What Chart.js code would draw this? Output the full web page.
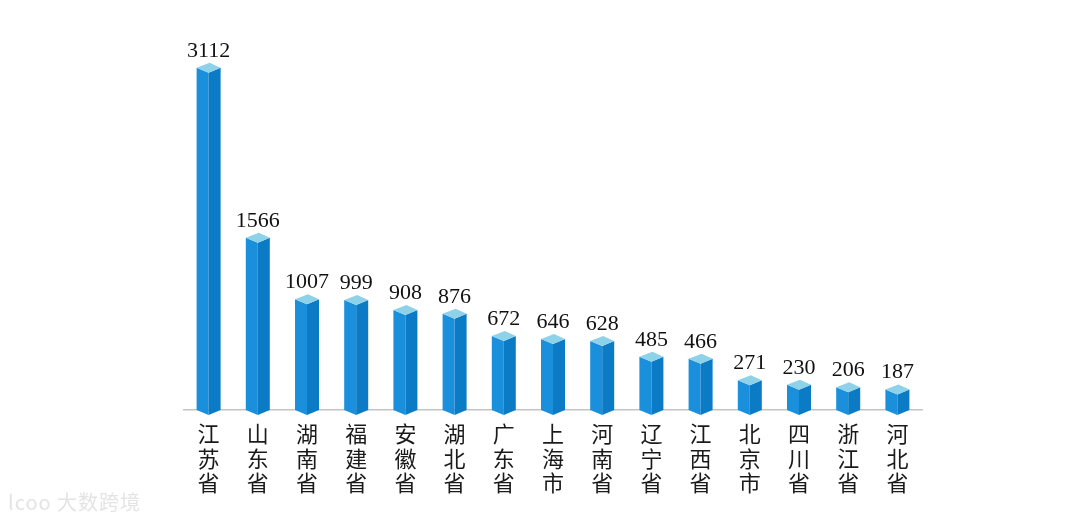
<!DOCTYPE html>
<html>
<head>
<meta charset="utf-8">
<script src="https://cdn.jsdelivr.net/npm/chart.js@4.4.0/dist/chart.umd.min.js"></script>
<style>
    html, body { margin: 0; padding: 0; background: #fff; }
    #wrap { position: relative; width: 1080px; height: 522px; }
    #mark { position: absolute; left: 8px; bottom: 6px; font: 20px "Noto Sans CJK SC", sans-serif; color: #e4e4e4; letter-spacing: 1px; }
</style>
</head>
<body>
<div id="wrap">
    <canvas id="barProvinsi" width="1080" height="522"></canvas>
    <div id="mark">lcoo 大数跨境</div>
</div>
<script>
var provinces = ['江苏省', '山东省', '湖南省', '福建省', '安徽省', '湖北省', '广东省', '上海市', '河南省', '辽宁省', '江西省', '北京市', '四川省', '浙江省', '河北省'];
var counts = [3112, 1566, 1007, 999, 908, 876, 672, 646, 628, 485, 466, 271, 230, 206, 187];

// vertical labels: one character per line
var labels = provinces.map(function (p) { return p.split(''); });

var cube = {
    id: 'cube',
    afterDatasetsDraw: function (chart) {
        var ctx = chart.ctx;
        var meta = chart.getDatasetMeta(0);
        ctx.save();
        meta.data.forEach(function (bar, i) {
            var x = bar.x, y = bar.y, base = bar.base, h = 12, d = 5;
            // left face
            ctx.fillStyle = '#1a8fdc';
            ctx.beginPath();
            ctx.moveTo(x - h, y); ctx.lineTo(x, y + d); ctx.lineTo(x, base + d);
            ctx.lineTo(x - h, base); ctx.closePath(); ctx.fill();
            // right face
            ctx.fillStyle = '#0b7bc6';
            ctx.beginPath();
            ctx.moveTo(x, y + d); ctx.lineTo(x + h, y); ctx.lineTo(x + h, base);
            ctx.lineTo(x, base + d); ctx.closePath(); ctx.fill();
            // top cap
            ctx.fillStyle = '#8ed2e9';
            ctx.beginPath();
            ctx.moveTo(x - h, y); ctx.lineTo(x + 1, y - d); ctx.lineTo(x + h, y);
            ctx.lineTo(x, y + d); ctx.closePath(); ctx.fill();
            // value
            ctx.fillStyle = '#111';
            ctx.font = '22px "Liberation Serif", serif';
            ctx.textAlign = 'center';
            ctx.textBaseline = 'alphabetic';
            ctx.fillText(counts[i], x, y - 11);
        });
        ctx.restore();
    }
};

new Chart(document.getElementById('barProvinsi').getContext('2d'), {
    type: 'bar',
    data: {
        labels: labels,
        datasets: [{ data: counts, backgroundColor: 'rgba(0,0,0,0)', barThickness: 24 }]
    },
    options: {
        responsive: false,
        animation: false,
        layout: { padding: { left: 184, right: 158, top: 58, bottom: 0 } },
        plugins: { legend: { display: false }, tooltip: { enabled: false } },
        scales: {
            x: {
                grid: { display: false },
                border: { color: '#c4c4c4', width: 1.5 },
                ticks: {
                    autoSkip: false, maxRotation: 0, padding: 4, color: '#1a1a1a',
                    font: { family: '"Noto Sans CJK SC", sans-serif', size: 22, lineHeight: 1.1 }
                },
                afterFit: function (scale) { scale.height = 112; }
            },
            y: {
                display: false,
                min: 0,
                max: 3200,
                afterFit: function (scale) { scale.width = 0; }
            }
        }
    },
    plugins: [cube]
});
</script>
</body>
</html>
